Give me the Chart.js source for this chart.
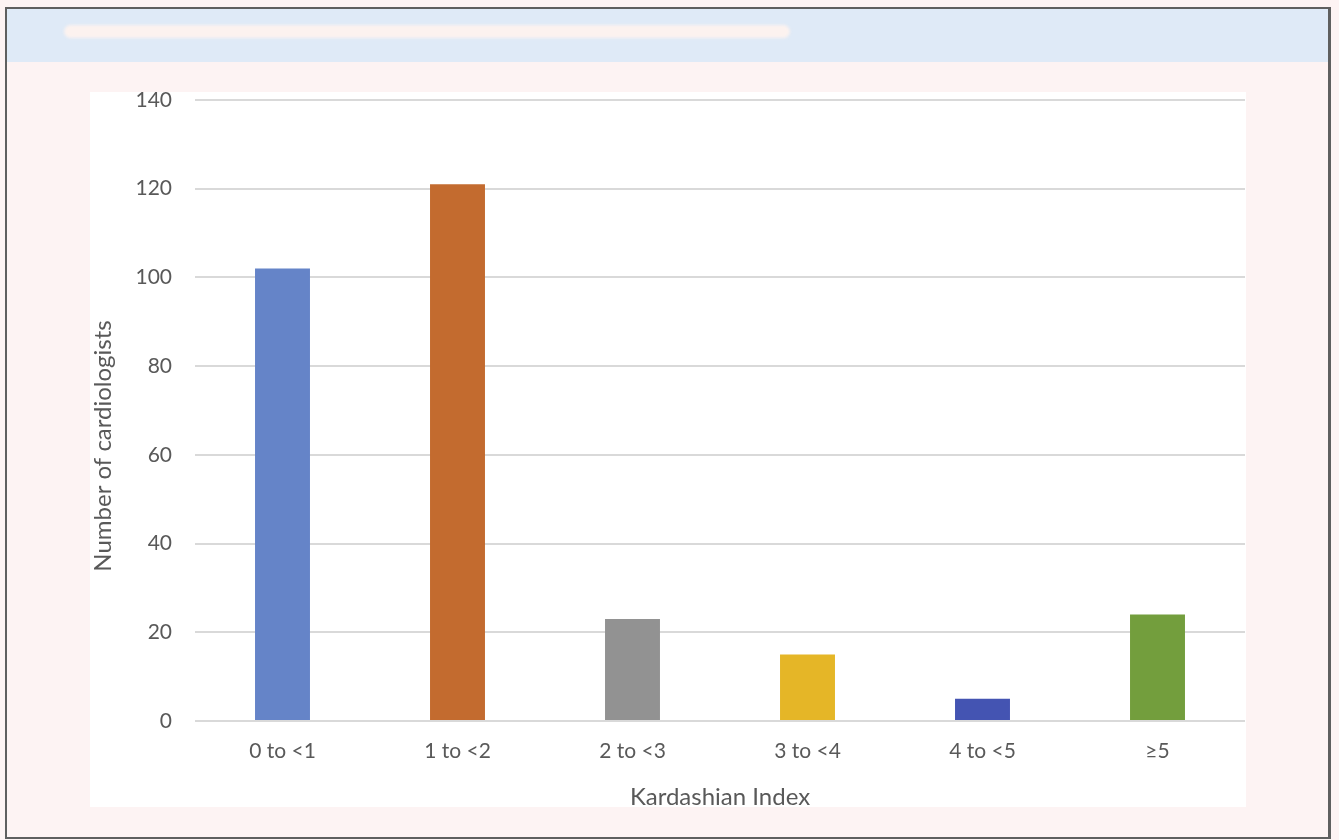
<!DOCTYPE html>
<html>
<head>
<meta charset="utf-8">
<script src="https://cdn.jsdelivr.net/npm/chart.js@4"></script>
<style>
  html, body { margin: 0; padding: 0; background: #fdf3f3; }
  body { width: 1339px; height: 840px; position: relative; overflow: hidden; }
  #frame {
    position: absolute; left: 5px; top: 7px; width: 1326px; height: 832px;
    box-sizing: border-box; border: 2px solid #5f5f5f; border-right-width: 3px;
    background: #fdf3f3;
  }
  #band {
    position: absolute; left: 0; top: 0; right: 0; height: 53px;
    background: #dfeaf7;
  }
  #pill {
    position: absolute; left: 57px; top: 16px; width: 726px; height: 13px;
    border-radius: 7px; background: #fcf2ef; filter: blur(1.5px);
  }
  #panel {
    position: absolute; left: 90px; top: 92px; width: 1156px; height: 715px;
    background: #ffffff;
  }
</style>
</head>
<body>
<div id="frame">
  <div id="band"><div id="pill"></div></div>
</div>
<div id="panel"><canvas id="kIndex" width="1156" height="715"></canvas></div>
<script>
const categories = ['0 to <1', '1 to <2', '2 to <3', '3 to <4', '4 to <5', '\u22655'];
const cardiologists = [102, 121, 23, 15, 5, 24];
const barColors = ['#6584c8', '#c36b2f', '#929292', '#e5b627', '#4454b2', '#739e3d'];
const yTicks = [0, 20, 40, 60, 80, 100, 120, 140];

const textColor = '#595959';
const fontFamily = 'Lato, "Open Sans", sans-serif';

// rotated y title, sits a bit lower than the plot centre like the original
const yTitle = {
  id: 'yTitle',
  afterDraw(chart) {
    const ctx = chart.ctx;
    ctx.save();
    ctx.translate(13, 354);
    ctx.rotate(-Math.PI / 2);
    ctx.font = '24px ' + fontFamily;
    ctx.fillStyle = textColor;
    ctx.textAlign = 'center';
    ctx.textBaseline = 'middle';
    ctx.fillText('Number of cardiologists', 0, 0);
    ctx.restore();
  }
};

new Chart(document.getElementById('kIndex').getContext('2d'), {
  type: 'bar',
  data: {
    labels: categories,
    datasets: [{
      label: 'Number of cardiologists',
      data: cardiologists,
      backgroundColor: barColors,
      borderWidth: 0,
      categoryPercentage: 1,
      barPercentage: 0.314,
    }],
  },
  options: {
    responsive: false,
    animation: false,
    layout: { padding: { left: 0, right: 1, top: 8, bottom: 0 } },
    scales: {
      x: {
        grid: { display: false },
        border: { display: false },
        ticks: {
          color: textColor,
          font: { family: fontFamily, size: 21 },
          padding: 10,
          maxRotation: 0,
        },
        title: {
          display: true,
          text: 'Kardashian Index',
          color: textColor,
          font: { family: fontFamily, size: 24, lineHeight: 1 },
          padding: { top: 0, bottom: -2 },
        },
        afterFit(scale) { scale.height = 86; },
      },
      y: {
        min: 0,
        max: 140,
        afterBuildTicks(scale) { scale.ticks = yTicks.map(v => ({ value: v })); },
        grid: { color: '#d9d9d9', lineWidth: 2, drawTicks: false },
        border: { display: false },
        ticks: {
          color: textColor,
          font: { family: fontFamily, size: 21 },
          padding: 23,
        },
        afterFit(scale) {
          scale.width = 105;
          scale.paddingTop = 0;
          scale.paddingBottom = 0;
        },
      },
    },
    plugins: {
      legend: { display: false },
      tooltip: { enabled: false },
    },
  },
  plugins: [yTitle],
});
</script>
</body>
</html>
